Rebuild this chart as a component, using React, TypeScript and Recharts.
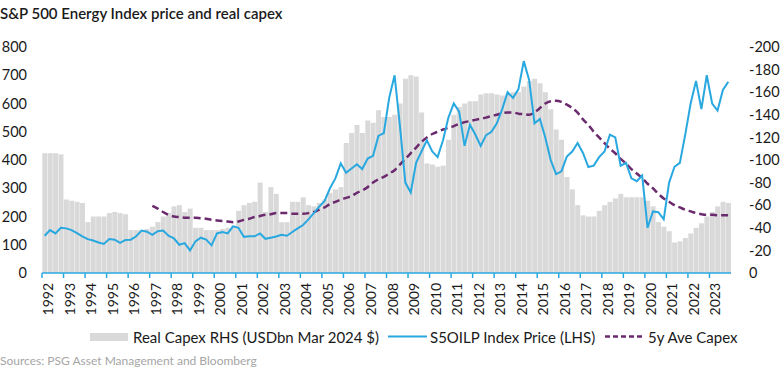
import { ComposedChart, Bar, Line, XAxis, YAxis } from "recharts";

// quarterly, 1992Q1 .. 2023Q4
const years = [
  1992, 1993, 1994, 1995, 1996, 1997, 1998, 1999, 2000, 2001, 2002, 2003, 2004, 2005, 2006, 2007,
  2008, 2009, 2010, 2011, 2012, 2013, 2014, 2015, 2016, 2017, 2018, 2019, 2020, 2021, 2022, 2023,
];
const quarters = years.flatMap((y) => [`${y}Q1`, `${y}Q2`, `${y}Q3`, `${y}Q4`]);

// Real capex, USDbn (right axis)
const capex = [
  106, 106, 106, 105, 65, 64, 63, 62, 45, 50, 50, 50, 53, 54, 53, 52,
  38, 38, 38, 39, 41, 45, 50, 53, 59, 60, 54, 57, 40, 40, 38, 38,
  38, 39, 40, 42, 55, 60, 62, 63, 80, 54, 76, 70, 45, 45, 63, 63,
  67, 60, 59, 62, 65, 71, 74, 76, 115, 124, 131, 124, 135, 133, 144, 138,
  138, 140, 150, 172, 175, 174, 142, 97, 96, 94, 95, 118, 140, 147, 150, 152,
  152, 158, 159, 159, 158, 157, 158, 160, 160, 165, 170, 172, 168, 160, 145, 127,
  118, 85, 74, 60, 51, 50, 50, 55, 60, 63, 66, 70, 67, 67, 67, 67,
  64, 59, 45, 41, 37, 27, 28, 31, 35, 40, 44, 50, 54, 59, 63, 62,
];

// S5OILP index price (left axis)
const price = [
  132, 152, 140, 160, 158, 152, 141, 130, 120, 115, 108, 103, 120, 118, 107, 117,
  118, 130, 150, 146, 135, 148, 150, 132, 123, 100, 106, 80, 112, 125, 118, 98,
  140, 145, 140, 165, 160, 128, 130, 130, 140, 121, 125, 129, 135, 132, 145, 158,
  170, 190, 212, 235, 255, 300, 335, 388, 355, 370, 385, 368, 405, 415, 485, 495,
  620, 700, 520, 320, 285, 390, 430, 470, 430, 410, 470, 550, 600, 571, 450, 525,
  490, 450, 488, 500, 530, 580, 640, 620, 650, 750, 683, 530, 545, 480, 400, 350,
  360, 412, 430, 460, 425, 375, 380, 410, 430, 490, 480, 380, 390, 335, 325, 345,
  160, 218, 215, 190, 320, 376, 390, 490, 600, 680, 580, 700, 600, 575, 648, 677,
];

// 5y average capex (right axis), starts 1997
const avg5y = [
  null, null, null, null, null, null, null, null, null, null, null, null, null, null, null, null,
  null, null, null, null, 59.5, 57, 54, 51.5, 50, 49.5, 49, 49, 49, 48.5, 48, 47,
  46.5, 46, 45.5, 45, 45.5, 47, 48, 49.5, 50.5, 51.5, 52, 53, 53, 53, 52.5, 52.5,
  52.5, 53, 54, 56, 58, 61, 63, 65, 66.5, 68, 71, 73, 76, 80, 83, 85,
  88, 91, 96, 101, 106, 111, 116, 120, 123, 125, 127, 128.5, 130, 132, 133.5, 134.5,
  135.5, 136.5, 137.5, 139, 140, 141.5, 142, 142, 141, 140.5, 140, 142, 146, 150, 152, 152.5,
  151.5, 149, 146, 142, 136, 131, 125, 120, 115, 110, 106, 101, 97, 92, 88, 84,
  79, 75, 70, 66, 63, 60, 58, 56, 54.5, 53, 52, 51.5, 51.5, 51, 51, 51,
];

const leftTicks = [0, 100, 200, 300, 400, 500, 600, 700, 800];
const rightTicks = [0, 20, 40, 60, 80, 100, 120, 140, 160, 180, 200];

const data = quarters.map((q, i) => ({ q, capex: capex[i], price: price[i], avg: avg5y[i] }));

const BLUE = "#29a8e0";
const PURPLE = "#6b2a6e";
const GREY = "#d9d9d9";
const TEXT = "#1a1a1a";

const YearTick = (props: any) => {
  const { x, y, payload, index } = props;
  const off = payload.offset || 2.69;
  const tx = x - off;
  const isLast = index === quarters.length - 4;
  return (
    <g>
      <line x1={tx} x2={tx} y1={y} y2={y + 5} stroke={BLUE} strokeWidth={1.5} />
      {isLast && <line x1={tx + 8 * off} x2={tx + 8 * off} y1={y} y2={y + 5} stroke={BLUE} strokeWidth={1.5} />}
      <text
        x={tx + 11}
        y={y + 10}
        transform={`rotate(-90, ${tx + 11}, ${y + 10})`}
        textAnchor="end"
        fontSize={14}
        fill={TEXT}
      >
        {String(payload.value).slice(0, 4)}
      </text>
    </g>
  );
};

export default function App() {
  return (
    <div
      style={{
        position: "absolute",
        left: 0,
        top: 0,
        width: 783,
        height: 370,
        background: "#fff",
        fontFamily: "Lato, sans-serif",
      }}
    >
      <ComposedChart
        width={783}
        height={320}
        data={data}
        margin={{ top: 47, right: 0, bottom: 0, left: 0 }}
        barCategoryGap="6%"
      >
        <XAxis
          dataKey="q"
          interval={3}
          height={47}
          tickSize={0}
          tickMargin={0}
          tickLine={false}
          axisLine={{ stroke: BLUE, strokeWidth: 1.5 }}
          tick={<YearTick />}
        />
        <YAxis
          yAxisId="left"
          domain={[0, 800]}
          ticks={leftTicks}
          width={42}
          axisLine={false}
          tickLine={false}
          tickSize={0}
          tickMargin={15}
          tick={{ fill: TEXT, fontSize: 14.5 }}
        />
        <YAxis
          yAxisId="right"
          orientation="right"
          domain={[0, 200]}
          ticks={rightTicks}
          width={52}
          axisLine={false}
          tickLine={false}
          tickSize={0}
          tickMargin={18}
          tick={{ fill: TEXT, fontSize: 14.5 }}
          tickFormatter={(v) => (v === 0 ? "0" : `-${v}`)}
        />
        <Bar yAxisId="right" dataKey="capex" fill={GREY} isAnimationActive={false} />
        <Line
          yAxisId="right"
          type="monotone"
          dataKey="avg"
          stroke={PURPLE}
          strokeWidth={2.5}
          strokeDasharray="7 4"
          dot={false}
          isAnimationActive={false}
        />
        <Line
          yAxisId="left"
          type="linear"
          dataKey="price"
          stroke={BLUE}
          strokeWidth={2}
          dot={false}
          isAnimationActive={false}
        />
      </ComposedChart>

      <svg
        width={783}
        height={370}
        style={{ position: "absolute", left: 0, top: 0, pointerEvents: "none" }}
        fontFamily="Lato, sans-serif"
      >
        <text x={0} y={18.5} fontSize={15} fontWeight={600} fill={TEXT}>
          S&amp;P 500 Energy Index price and real capex
        </text>

        <rect x={90} y={333} width={38} height={8} fill={GREY} />
        <text x={133} y={342.5} fontSize={15} fill={TEXT}>
          Real Capex RHS (USDbn Mar 2024 $)
        </text>
        <line x1={388} x2={427} y1={336.5} y2={336.5} stroke={BLUE} strokeWidth={2} />
        <text x={430} y={342.5} fontSize={15} fill={TEXT}>
          S5OILP Index Price (LHS)
        </text>
        <line x1={605} x2={645} y1={336.5} y2={336.5} stroke={PURPLE} strokeWidth={2.5} strokeDasharray="5 3" />
        <text x={648} y={342.5} fontSize={15} fill={TEXT}>
          5y Ave Capex
        </text>

        <text x={0} y={365} fontSize={12} fill="#a6a6a6">
          Sources: PSG Asset Management and Bloomberg
        </text>
      </svg>
    </div>
  );
}
